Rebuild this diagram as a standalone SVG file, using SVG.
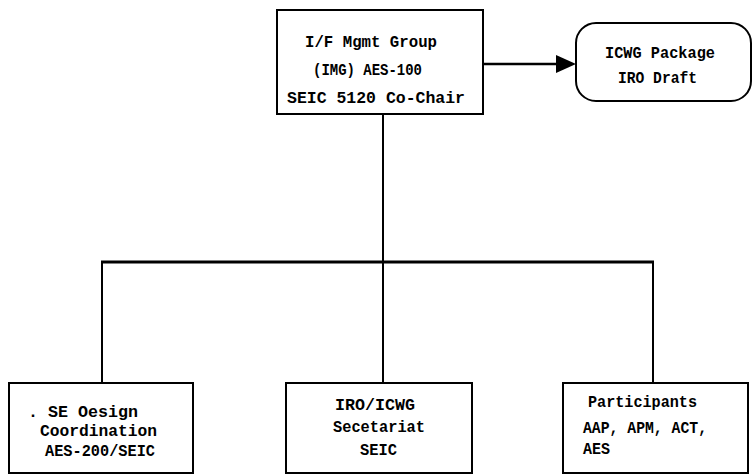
<svg xmlns="http://www.w3.org/2000/svg" width="753" height="474" viewBox="0 0 753 474">
<style>
.box{fill:#fff;stroke:#000;stroke-width:2}
.ln{fill:none;stroke:#000;stroke-width:2}
.t{font-family:"Liberation Mono","DejaVu Sans Mono",monospace;font-size:17px;font-weight:bold;fill:#000}
</style>
<defs>
<marker id="ah" markerWidth="10" markerHeight="10" refX="9" refY="5" orient="auto" markerUnits="userSpaceOnUse">
<path d="M0,0 L10,5 L0,10 Z" fill="#000"/>
</marker>
</defs>
<rect width="753" height="474" fill="#fff"/>
<g id="connectors">
<line class="ln" x1="383" y1="114" x2="383" y2="383"/>
<line class="ln" x1="101" y1="262" x2="654" y2="262" style="stroke-width:3"/>
<line class="ln" x1="102" y1="262" x2="102" y2="383"/>
<line class="ln" x1="653" y1="262" x2="653" y2="383"/>
<line class="ln" x1="483" y1="64" x2="560" y2="64" style="stroke-width:2.5"/>
<path d="M556,55 L576,64 L556,73 Z" fill="#000"/>
</g>
<g id="img">
<rect class="box" x="277" y="10" width="206" height="104"/>
<text class="t" x="305" y="47" textLength="132" lengthAdjust="spacingAndGlyphs">I/F Mgmt Group</text>
<text class="t" x="313" y="75" textLength="109" lengthAdjust="spacingAndGlyphs">(IMG) AES-100</text>
<text class="t" x="287" y="103" textLength="178" lengthAdjust="spacingAndGlyphs">SEIC 5120  Co-Chair</text>
</g>
<g id="icwg-package">
<rect class="box" x="576" y="23" width="175" height="78" rx="20" ry="20"/>
<text class="t" x="605" y="58" textLength="110" lengthAdjust="spacingAndGlyphs">ICWG Package</text>
<text class="t" x="618" y="83" textLength="79" lengthAdjust="spacingAndGlyphs">IRO Draft</text>
</g>
<g id="se-design">
<rect class="box" x="9" y="383" width="184" height="90"/>
<text class="t" x="28" y="417" textLength="110" lengthAdjust="spacingAndGlyphs">. SE  Oesign</text>
<text class="t" x="40" y="436" textLength="117" lengthAdjust="spacingAndGlyphs">Coordination</text>
<text class="t" x="45" y="456" textLength="110" lengthAdjust="spacingAndGlyphs">AES-200/SEIC</text>
</g>
<g id="secretariat">
<rect class="box" x="286" y="383" width="186" height="90"/>
<text class="t" x="335" y="410" textLength="80" lengthAdjust="spacingAndGlyphs">IRO/ICWG</text>
<text class="t" x="333" y="432" textLength="92" lengthAdjust="spacingAndGlyphs">Secetariat</text>
<text class="t" x="360" y="455" textLength="37" lengthAdjust="spacingAndGlyphs">SEIC</text>
</g>
<g id="participants">
<rect class="box" x="563" y="383" width="185" height="90"/>
<text class="t" x="588" y="407" textLength="109" lengthAdjust="spacingAndGlyphs">Participants</text>
<text class="t" x="583" y="433" textLength="124" lengthAdjust="spacingAndGlyphs">AAP, APM, ACT,</text>
<text class="t" x="583" y="454" textLength="27" lengthAdjust="spacingAndGlyphs">AES</text>
</g>
</svg>
